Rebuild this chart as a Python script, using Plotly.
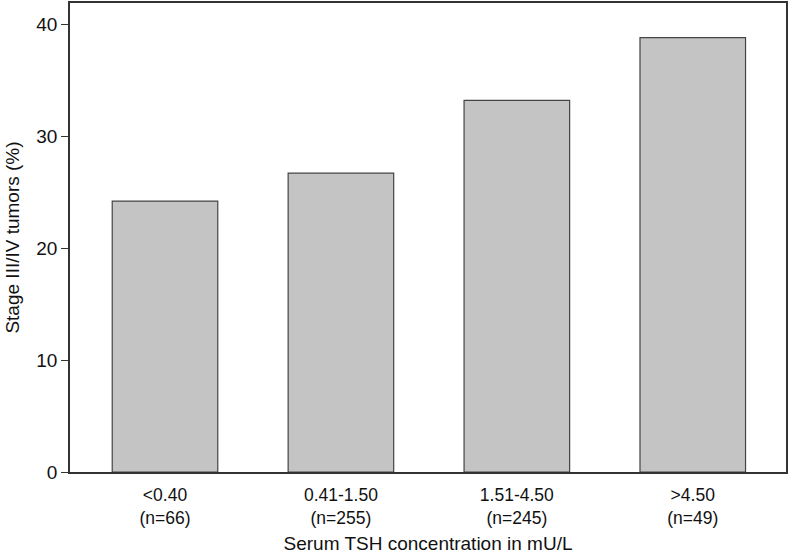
import plotly.graph_objects as go

categories = ["<0.40", "0.41-1.50", "1.51-4.50", ">4.50"]
n_counts = [66, 255, 245, 49]
stage_pct = [24.2, 26.7, 33.2, 38.8]
y_ticks = [0, 10, 20, 30, 40]

tick_text = [f"{c}<br>(n={n})" for c, n in zip(categories, n_counts)]
xpos = list(range(len(categories)))

fig = go.Figure(go.Bar(
    x=xpos, y=stage_pct, width=0.6,
    marker=dict(color="#c4c4c4", line=dict(color="#444444", width=1.2)),
    hoverinfo="skip",
))

font = "Liberation Sans, Arial, Helvetica, sans-serif"
fig.update_layout(
    width=792, height=554,
    margin=dict(l=70, r=6, t=3, b=82),
    plot_bgcolor="white", paper_bgcolor="white",
    showlegend=False,
    font=dict(family=font, size=18, color="#111111"),
    xaxis=dict(
        tickmode="array", tickvals=xpos, ticktext=tick_text,
        range=[-0.54, 3.53], showgrid=False, zeroline=False,
        showline=True, linecolor="#333333", linewidth=1.5, mirror=True,
        ticks="", tickfont=dict(size=17.5), automargin=False, ticklabelstandoff=6,
        title=dict(text="Serum TSH concentration in mU/L", font=dict(size=19), standoff=10),
    ),
    yaxis=dict(
        tickmode="array", tickvals=y_ticks,
        range=[0, 41.9], showgrid=False, zeroline=False,
        showline=True, linecolor="#333333", linewidth=1.5, mirror=True,
        ticks="outside", ticklen=7, tickcolor="#333333", tickwidth=1.2,
        tickfont=dict(size=19), automargin=False,
        title=dict(text="Stage III/IV tumors (%)", font=dict(size=19), standoff=12),
    ),
)
fig.write_html("out.html", config={"displayModeBar": False},
               post_script="document.body.style.margin='0';")
